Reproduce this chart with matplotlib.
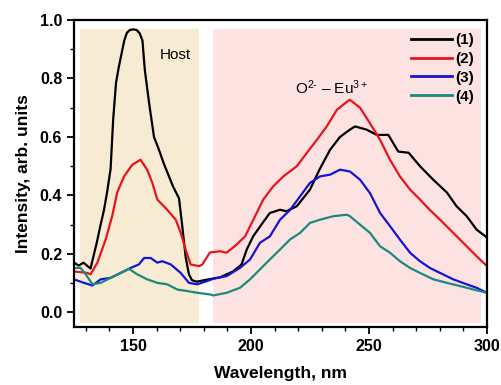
import matplotlib
matplotlib.use("Agg")
import matplotlib.pyplot as plt
from matplotlib.ticker import MultipleLocator, FormatStrFormatter

plt.rcParams['font.family'] = ['Liberation Sans', 'DejaVu Sans']
plt.rcParams['mathtext.fontset'] = 'custom'
plt.rcParams['mathtext.rm'] = 'Liberation Sans'
plt.rcParams['mathtext.it'] = 'Liberation Sans:italic'
plt.rcParams['mathtext.bf'] = 'Liberation Sans:bold'

# Curve (1) black
w1 = [125, 127, 129, 132, 134.7, 136, 137.7, 139, 140.5, 141.6, 142.8, 144, 145.2, 146.3, 147.4, 148.7,
      150.1, 151.5, 152.8, 154, 155, 156.8, 158.9, 161, 163, 165, 167, 169.5, 170.8, 172.3, 173.7, 175,
      177, 180, 186.9, 192.4, 196, 198.2, 200.9, 205, 208, 212.3, 215, 219.4, 225, 229, 233.5, 237.7,
      241.9, 244.1, 249, 253.3, 258.2, 262.4, 266.8, 271.6, 277.2, 283, 287.1, 291.4, 295.6, 300]
i1 = [0.17, 0.16, 0.17, 0.15, 0.24, 0.29, 0.35, 0.41, 0.49, 0.66, 0.785, 0.84, 0.887, 0.93, 0.956, 0.966,
      0.968, 0.966, 0.955, 0.93, 0.83, 0.717, 0.60, 0.556, 0.51, 0.47, 0.43, 0.39, 0.30, 0.19, 0.13, 0.11,
      0.105, 0.11, 0.12, 0.14, 0.164, 0.215, 0.26, 0.307, 0.34, 0.351, 0.346, 0.363, 0.42, 0.488, 0.556, 0.60,
      0.625, 0.636, 0.625, 0.607, 0.607, 0.55, 0.546, 0.50, 0.454, 0.41, 0.363, 0.329, 0.283, 0.256]

# Curve (2) red
w2 = [125, 130.6, 132, 134.9, 138.4, 141.2, 143.3, 146.2, 149.7, 153.2, 156, 158.2, 160.3, 164.5, 168.1,
      170.2, 172.3, 174.4, 178, 179.4, 182.6, 186.9, 189.7, 193.9, 197.5, 201, 205.2, 209.4, 213.7, 219.4,
      223.6, 227.9, 232.1, 236.4, 240.6, 241.9, 246.2, 250.4, 254.7, 258.9, 263.1, 267.4, 271.6, 275.8,
      280.1, 285.7, 291.4, 295.6, 300]
i2 = [0.14, 0.135, 0.13, 0.17, 0.249, 0.33, 0.41, 0.465, 0.505, 0.522, 0.488, 0.443, 0.386, 0.351, 0.317,
      0.273, 0.215, 0.164, 0.158, 0.164, 0.205, 0.209, 0.204, 0.232, 0.26, 0.317, 0.386, 0.431, 0.465, 0.50,
      0.545, 0.59, 0.636, 0.693, 0.72, 0.727, 0.70, 0.647, 0.59, 0.522, 0.465, 0.42, 0.386, 0.35,
      0.317, 0.272, 0.226, 0.192, 0.158]

# Curve (3) blue
w3 = [125, 129.2, 132.8, 136.3, 140.5, 144.8, 149, 152.5, 154.7, 157.5, 160.3, 162.4, 166, 170.2, 173.7,
      177.2, 181.4, 184, 189.7, 195.3, 199.6, 203.8, 208, 212.3, 216.5, 220.8, 225, 229.2, 233.5, 237.7,
      241.9, 246.2, 250.4, 254.7, 258.9, 263.1, 267.4, 271.6, 275.8, 280.1, 285.7, 291.4, 295.6, 300]
i3 = [0.113, 0.101, 0.092, 0.113, 0.118, 0.135, 0.152, 0.164, 0.186, 0.186, 0.17, 0.175, 0.164, 0.135, 0.101,
      0.096, 0.107, 0.115, 0.124, 0.152, 0.181, 0.238, 0.26, 0.317, 0.35, 0.397, 0.443, 0.465, 0.471, 0.488,
      0.482, 0.454, 0.408, 0.34, 0.295, 0.249, 0.204, 0.175, 0.152, 0.135, 0.113, 0.096, 0.084, 0.067]

# Curve (4) teal
w4 = [125, 127.8, 130, 132.8, 136.3, 140.5, 144.8, 148.3, 151.8, 156, 160.3, 164.5, 168.8, 173, 177.2,
      182.9, 184, 189.7, 195.3, 199.6, 203.8, 208, 212.3, 216.5, 220.8, 225, 229.2, 234.9, 240.6, 241.9,
      246.2, 250.4, 254.7, 258.9, 263.1, 267.4, 271.6, 277.3, 283, 288.6, 294.3, 300]
i4 = [0.152, 0.152, 0.13, 0.096, 0.101, 0.118, 0.135, 0.149, 0.13, 0.113, 0.101, 0.096, 0.078, 0.073, 0.067,
      0.061, 0.058, 0.067, 0.084, 0.113, 0.147, 0.181, 0.215, 0.249, 0.272, 0.306, 0.317, 0.329, 0.334, 0.329,
      0.30, 0.272, 0.226, 0.204, 0.175, 0.152, 0.135, 0.113, 0.101, 0.09, 0.078, 0.067]

labels = ['(1)', '(2)', '(3)', '(4)']
colors = ['#000000', '#e8141c', '#1414d2', '#1a8a80']
host_span = (127.5, 178)
oeu_span = (184, 297.5)

fig = plt.figure(figsize=(5.02, 3.85), dpi=100)
ax = fig.add_axes([74/502, 1 - 327/385, (487-74)/502, (327-20)/385])

ax.fill_between(host_span, -0.035, 0.97, color='#f8ebd4', lw=0, zorder=0)
ax.fill_between(oeu_span, -0.035, 0.97, color='#fde2e2', lw=0, zorder=0)

for w, i, lab, c in zip([w1, w2, w3, w4], [i1, i2, i3, i4], labels, colors):
    ax.plot(w, i, color=c, lw=1.6, label=lab)

ax.set_xlim(125, 300)
ax.set_ylim(-0.05, 1.0)
ax.xaxis.set_major_locator(MultipleLocator(50))
ax.xaxis.set_minor_locator(MultipleLocator(10))
ax.yaxis.set_major_locator(MultipleLocator(0.2))
ax.yaxis.set_minor_locator(MultipleLocator(0.1))
ax.yaxis.set_major_formatter(FormatStrFormatter('%.1f'))
ax.tick_params(which='major', direction='out', length=5, width=1.3, labelsize=11.5)
ax.tick_params(which='minor', direction='out', length=3, width=1.0)
for lbl in ax.get_xticklabels() + ax.get_yticklabels():
    lbl.set_fontweight('bold')
for s in ax.spines.values():
    s.set_linewidth(1.6)

ax.set_xlabel('Wavelength, nm', fontsize=12.5, fontweight='bold', labelpad=9)
ax.set_ylabel('Intensity, arb. units', fontsize=12.5, fontweight='bold', labelpad=6)

ax.text(167.8, 0.88, 'Host', fontsize=11, ha='center', va='center')
ax.text(234, 0.77, r'O$^{2\text{-}}$ ‒ Eu$^{3+}$', fontsize=11, ha='center', va='center')

leg = ax.legend(loc='upper right', frameon=False, handlelength=2.7,
                labelspacing=0.32, borderaxespad=0.45, handletextpad=0.2,
                prop={'weight': 'bold', 'size': 11})
for h in leg.get_lines():
    h.set_linewidth(2)

fig.savefig('out.png', dpi=100)
